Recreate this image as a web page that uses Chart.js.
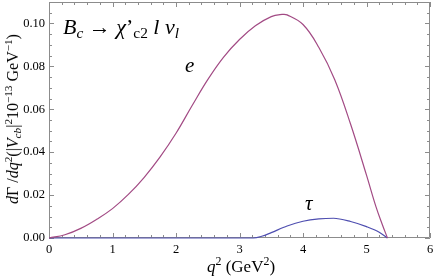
<!DOCTYPE html>
<html>
<head>
<meta charset="utf-8">
<script src="https://cdn.jsdelivr.net/npm/chart.js@4"></script>
<style>
  html, body { margin: 0; padding: 0; background: #fff; }
  #wrap { position: relative; width: 436px; height: 276px; font-family: "Liberation Serif", "DejaVu Serif", serif; color: #000; }
  canvas { position: absolute; left: 0; top: 0; }
  .lbl { position: absolute; white-space: nowrap; line-height: 1; }
  .lbl sub, .lbl sup { font-size: 70%; line-height: 0; }
  .lbl sub { vertical-align: -0.25em; }
  .lbl sup { vertical-align: 0.55em; }
</style>
</head>
<body>
<div id="wrap">
  <canvas id="c" width="436" height="276"></canvas>
  <div class="lbl" id="title" style="left:63px; top:16px; font-size:22px;"><i>B</i><sub><i>c</i></sub> → <i>χ</i>’<sub>c2</sub> <i>l</i> <i>ν</i><sub><i>l</i></sub></div>
  <div class="lbl" id="labE" style="left:185px; top:55px; font-size:21px;"><i>e</i></div>
  <div class="lbl" id="labT" style="left:305px; top:193px; font-size:21px;"><i>τ</i></div>
  <div class="lbl" id="xt" style="left:241px; top:258px; font-size:17px; transform:translateX(-50%);"><i>q</i><sup>2</sup> (GeV<sup>2</sup>)</div>
  <div class="lbl" id="yt" style="left:13px; top:119px; font-size:16px; transform:translate(-50%,-50%) rotate(-90deg);"><i>d</i>Γ /<i>dq</i><sup>2</sup>(|<i>V</i><sub><i>cb</i></sub>|<sup>2</sup>10<sup>−13</sup> GeV<sup>−1</sup>)</div>
</div>
<script>
// ---- data ----
const qE   = [0, 0.25, 0.5, 0.75, 1.0, 1.25, 1.5, 1.75, 2.0, 2.25, 2.5, 2.75, 3.0, 3.25, 3.5, 3.67, 3.75, 4.0, 4.25, 4.5, 4.75, 5.0, 5.15, 5.25, 5.33];
const rateE = [0, 0.0015, 0.0045, 0.0087, 0.0137, 0.0203, 0.0283, 0.0378, 0.0488, 0.0615, 0.0738, 0.0843, 0.0925, 0.0989, 0.1032, 0.1042, 0.1040, 0.0995, 0.0888, 0.0738, 0.0530, 0.0293, 0.0145, 0.0062, 0];
const qT   = [0, 3.22, 3.35, 3.5, 3.75, 4.0, 4.25, 4.48, 4.75, 5.0, 5.2, 5.33];
const rateT = [0, 0, 0.0008, 0.0025, 0.0056, 0.0078, 0.0089, 0.0092, 0.0077, 0.0053, 0.0027, 0];
const xTicks = [0, 1, 2, 3, 4, 5, 6];
const yTicks = [0, 0.02, 0.04, 0.06, 0.08, 0.10];

const toPts = (xs, ys) => xs.map((x, i) => ({ x: x, y: ys[i] }));

const frameColor = '#8c8c8c';
const framePlugin = {
  id: 'frame',
  beforeDatasetsDraw(chart) {
    const { ctx, chartArea: a, scales } = chart;
    const xs = scales.x, ys = scales.y;
    ctx.save();
    ctx.strokeStyle = frameColor;
    ctx.lineWidth = 1;
    ctx.beginPath();
    ctx.rect(Math.round(a.left) + 0.5, Math.round(a.top) + 0.5, Math.round(a.right - a.left) - 1, Math.round(a.bottom - a.top) - 1);
    ctx.stroke();
    ctx.beginPath();
    for (let k = 0; k <= 30; k++) {
      const v = k * 0.2;
      const len = (k % 5 === 0) ? 5 : 3;
      const px = Math.round(xs.getPixelForValue(v)) + 0.5;
      ctx.moveTo(px, a.bottom); ctx.lineTo(px, a.bottom - len);
      ctx.moveTo(px, a.top); ctx.lineTo(px, a.top + len);
    }
    for (let k = 0; k <= 22; k++) {
      const v = k * 0.005;
      const len = (k % 4 === 0) ? 5 : 3;
      const py = Math.round(ys.getPixelForValue(v)) + 0.5;
      ctx.moveTo(a.left, py); ctx.lineTo(a.left + len, py);
      ctx.moveTo(a.right, py); ctx.lineTo(a.right - len, py);
    }
    ctx.stroke();
    ctx.restore();
  }
};

new Chart(document.getElementById('c'), {
  type: 'line',
  data: {
    datasets: [
      { label: 'e', data: toPts(qE, rateE), borderColor: '#a24a84', borderWidth: 1.2, pointRadius: 0, tension: 0.4, fill: false, clip: 3 },
      { label: 'τ', data: toPts(qT, rateT), borderColor: '#4e4eb0', borderWidth: 1.2, pointRadius: 0, cubicInterpolationMode: 'monotone', fill: false, clip: 3 }
    ]
  },
  options: {
    responsive: false,
    animation: false,
    events: [],
    layout: { padding: { left: 0, right: 6, top: 2, bottom: 0 } },
    plugins: { legend: { display: false }, tooltip: { enabled: false } },
    scales: {
      x: {
        type: 'linear', min: 0, max: 6,
        grid: { display: false, drawTicks: false },
        border: { display: false },
        afterBuildTicks: s => { s.ticks = xTicks.map(v => ({ value: v })); },
        afterFit: s => { s.height = 38; s.paddingLeft = 0; s.paddingRight = 0; },
        ticks: { padding: 4, color: '#000', font: { family: 'Liberation Serif', size: 12.5 }, callback: v => String(v), maxRotation: 0 }
      },
      y: {
        type: 'linear', min: 0, max: 0.11,
        grid: { display: false, drawTicks: false },
        border: { display: false },
        afterBuildTicks: s => { s.ticks = yTicks.map(v => ({ value: v })); },
        afterFit: s => { s.width = 49; s.paddingTop = 0; s.paddingBottom = 0; },
        ticks: { padding: 4, color: '#000', font: { family: 'Liberation Serif', size: 12.5 }, callback: v => Number(v).toFixed(2) }
      }
    }
  },
  plugins: [framePlugin]
});
</script>
</body>
</html>
